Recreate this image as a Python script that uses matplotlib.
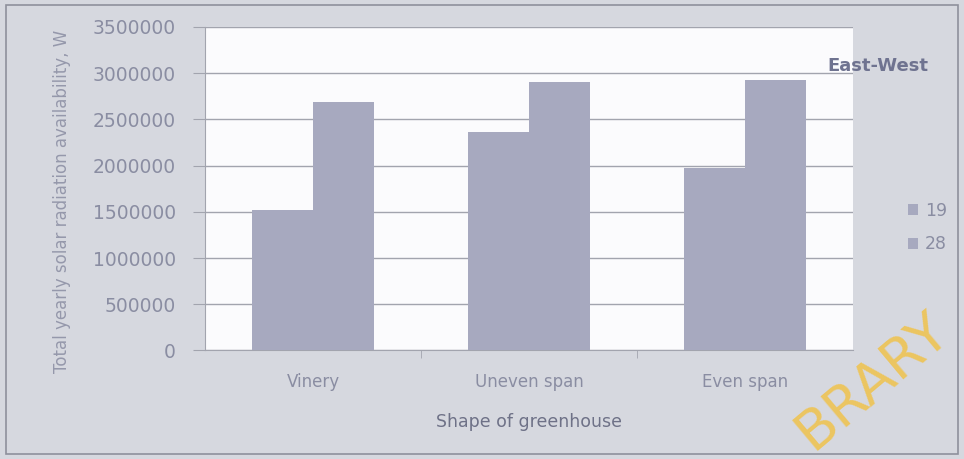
import matplotlib.pyplot as plt
import numpy as np
from matplotlib.patches import Rectangle

# values
shapes = ['Vinery', 'Uneven span', 'Even span']
slope_19 = [1520000, 2360000, 1975000]
slope_28 = [2685000, 2905000, 2925000]
yticks = [0, 500000, 1000000, 1500000, 2000000, 2500000, 3000000, 3500000]

bg = '#d6d8df'
bar_col = '#a7a9bf'
txt = '#8a8da2'

fig = plt.figure(figsize=(9.64, 4.59), dpi=100, facecolor=bg)
ax = fig.add_axes([0.2127, 0.2364, 0.6722, 0.705])
ax.set_facecolor('#fbfbfd')

x = np.arange(len(shapes))
w = 0.282
ax.bar(x - w / 2, slope_19, width=w, color=bar_col, label='19', zorder=3)
ax.bar(x + w / 2, slope_28, width=w, color=bar_col, label='28', zorder=3)

ax.set_xlim(-0.5, 2.5)
ax.set_ylim(0, 3500000)
ax.set_yticks(yticks)
ax.set_yticklabels([str(v) for v in yticks])
ax.yaxis.grid(True, color='#a2a4ae', linewidth=1.0, zorder=0)
ax.set_xticks(x)
ax.set_xticklabels(shapes)
ax.set_xticks([0.5, 1.5], minor=True)
ax.tick_params(axis='x', which='major', length=0, pad=16, labelsize=12, labelcolor=txt)
ax.tick_params(axis='x', which='minor', length=6, color='#a2a4ae')
ax.tick_params(axis='y', length=9, color='#a2a4ae', labelsize=13.5, labelcolor=txt, pad=12)

for s in ['top', 'right']:
    ax.spines[s].set_visible(False)
for s in ['left', 'bottom']:
    ax.spines[s].set_color('#a2a4ae')

ax.set_ylabel('Total yearly solar radiation availability, W', fontsize=12,
              color='#9598ab', labelpad=16, y=0.46)
ax.set_xlabel('Shape of greenhouse', fontsize=12.5, color='#6e7187', labelpad=16)

fig.text(0.911, 0.856, 'East-West', ha='center', va='center', fontsize=13,
         fontweight='bold', color='#6f7390')

ax.legend(loc='center left', bbox_to_anchor=(1.06, 0.38), frameon=False,
          fontsize=12.5, labelcolor=txt, handlelength=0.6, handleheight=0.6,
          handletextpad=0.4, labelspacing=0.9)

fig.patches.append(Rectangle((0.006, 0.01), 0.988, 0.98, transform=fig.transFigure,
                             fill=False, edgecolor='#8f919c', linewidth=1.2))

# scan watermark, only the part that is visible in the picture
fig.text(0.905, 0.17, 'BRARY', rotation=40, fontsize=40, color='#f0c24a',
         alpha=0.85, ha='center', va='center')

fig.savefig('out.png', dpi=100, facecolor=bg)
